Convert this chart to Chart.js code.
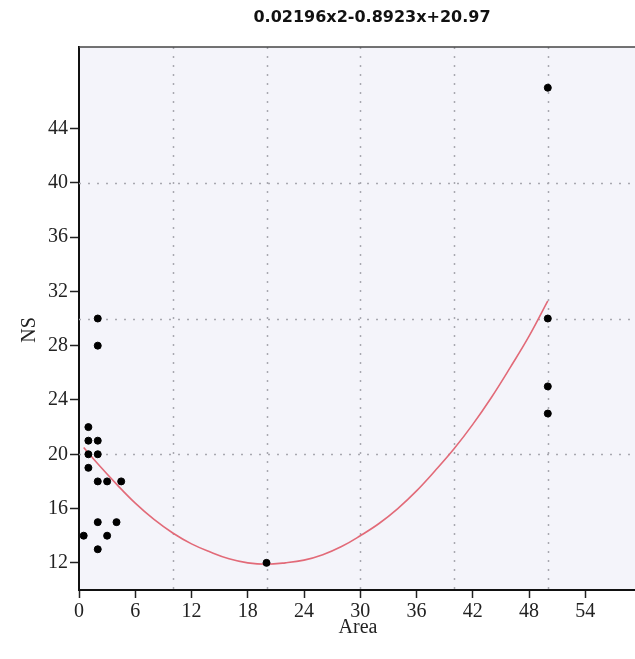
<!DOCTYPE html>
<html><head><meta charset="utf-8">
<script src="https://cdn.jsdelivr.net/npm/chart.js@4.4.0/dist/chart.umd.min.js"></script>
<style>html,body{margin:0;padding:0;background:#fff;}#wrap{width:635px;height:659px;position:relative;}</style>
</head><body><div id="wrap"><canvas id="c" width="635" height="659"></canvas></div>
<script>
const chartTitle = '0.02196x2-0.8923x+20.97';
const xLabel = 'Area';
const yLabel = 'NS';
// observed points
const areaValues = [1, 1, 2, 1, 2, 1, 2, 3, 4.5, 2, 4, 0.5, 3, 2, 2, 2, 20, 50, 50, 50, 50];
const nsValues   = [22, 21, 21, 20, 20, 19, 18, 18, 18, 15, 15, 14, 14, 13, 30, 28, 12, 47, 30, 25, 23];
// fitted curve
const fitArea = [0.5, 2, 4, 6, 8, 10, 12, 14, 16, 18, 20, 22, 24, 26, 28, 30, 32, 34, 36, 38, 40, 42, 44, 46, 48, 50];
const fitNS   = [20.5, 19.3, 17.8, 16.4, 15.2, 14.2, 13.4, 12.8, 12.3, 12.0, 11.9, 12.0, 12.2, 12.6, 13.2, 14.0, 14.9, 16.0, 17.3, 18.8, 20.4, 22.2, 24.2, 26.4, 28.7, 31.3];
// ticks and grid
const xTicks = [0, 6, 12, 18, 24, 30, 36, 42, 48, 54];
const yTicks = [12, 16, 20, 24, 28, 32, 36, 40, 44];
const xGrid = [10, 20, 30, 40, 50];
const yGrid = [20, 30, 40];

const serif = "'Liberation Serif', 'DejaVu Serif', serif";

const decor = {
  id: 'decor',
  beforeDraw(chart) {
    const {ctx, chartArea: a} = chart;
    ctx.save();
    ctx.fillStyle = '#f4f4fa';
    ctx.fillRect(a.left, a.top, a.right - a.left, a.bottom - a.top);
    ctx.restore();
  },
  beforeDatasetsDraw(chart) {
    const {ctx, chartArea: a, scales} = chart;
    ctx.save();
    ctx.strokeStyle = '#a8a8b0';
    ctx.lineWidth = 1.5;
    ctx.setLineDash([2, 7]);
    xGrid.forEach(v => {
      const px = Math.round(scales.x.getPixelForValue(v)) + 0.5;
      ctx.beginPath(); ctx.moveTo(px, a.top); ctx.lineTo(px, a.bottom); ctx.stroke();
    });
    yGrid.forEach(v => {
      const py = Math.round(scales.y.getPixelForValue(v)) + 0.5;
      ctx.beginPath(); ctx.moveTo(a.left, py); ctx.lineTo(a.right, py); ctx.stroke();
    });
    ctx.setLineDash([]);
    ctx.strokeStyle = '#444';
    ctx.lineWidth = 1.5;
    ctx.beginPath(); ctx.moveTo(a.left, a.top); ctx.lineTo(a.right, a.top); ctx.stroke();
    ctx.restore();
  },
  afterDraw(chart) {
    const {ctx} = chart;
    ctx.save();
    ctx.fillStyle = '#111';
    ctx.textAlign = 'center';
    ctx.textBaseline = 'middle';
    ctx.font = "bold 16px 'DejaVu Sans', sans-serif";
    ctx.fillText(chartTitle, 372, 18);
    ctx.fillStyle = '#222';
    ctx.font = "20px " + serif;
    ctx.fillText(xLabel, 358, 628);
    ctx.translate(30, 330);
    ctx.rotate(-Math.PI / 2);
    ctx.fillText(yLabel, 0, 0);
    ctx.restore();
  }
};

new Chart(document.getElementById('c'), {
  type: 'scatter',
  data: {
    datasets: [
      {
        label: 'NS',
        data: areaValues.map((x, i) => ({x, y: nsValues[i]})),
        backgroundColor: '#000',
        borderColor: '#000',
        pointRadius: 3.5,
        pointHoverRadius: 3.5,
        order: 1
      },
      {
        label: 'fit',
        type: 'line',
        data: fitArea.map((x, i) => ({x, y: fitNS[i]})),
        borderColor: '#e26a78',
        borderWidth: 1.6,
        pointRadius: 0,
        tension: 0.4,
        fill: false,
        order: 2
      }
    ]
  },
  options: {
    responsive: false,
    animation: false,
    events: [],
    layout: {autoPadding: false, padding: {top: 47, right: 0, left: 0, bottom: 0}},
    plugins: {legend: {display: false}, title: {display: false}, tooltip: {enabled: false}},
    scales: {
      x: {
        type: 'linear', min: 0, max: 59.3,
        afterBuildTicks: s => { s.ticks = xTicks.map(v => ({value: v})); },
        afterFit: s => { s.height = 69; },
        ticks: {font: {family: serif, size: 20}, color: '#222', padding: 2, maxRotation: 0, autoSkip: false},
        grid: {drawOnChartArea: false, drawTicks: true, tickLength: 8, tickColor: '#222', tickWidth: 1.5},
        border: {display: true, color: '#111', width: 2}
      },
      y: {
        type: 'linear', min: 10, max: 50,
        afterBuildTicks: s => { s.ticks = yTicks.map(v => ({value: v})); },
        afterFit: s => { s.width = 79; },
        ticks: {font: {family: serif, size: 20}, color: '#222', padding: 2, autoSkip: false},
        grid: {drawOnChartArea: false, drawTicks: true, tickLength: 9, tickColor: '#222', tickWidth: 1.5},
        border: {display: true, color: '#111', width: 2}
      }
    }
  },
  plugins: [decor]
});
</script>
</body></html>
